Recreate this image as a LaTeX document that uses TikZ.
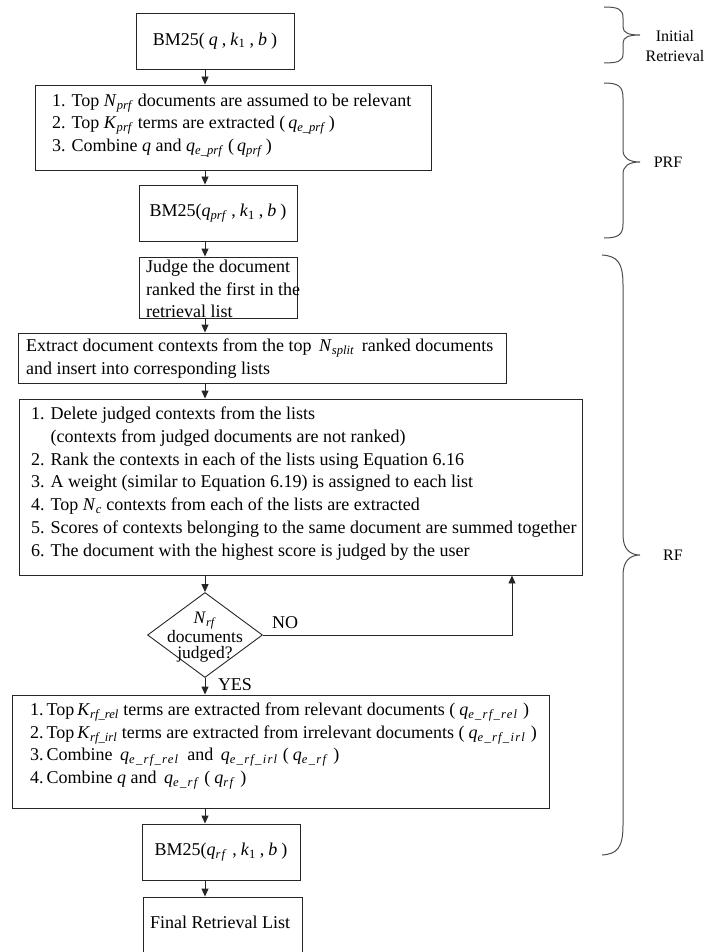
\documentclass[tikz,border=0pt]{standalone}
\usepackage{fontspec}
\setmainfont{Liberation Serif}
\usetikzlibrary{arrows.meta,shapes.geometric}
\newcommand\subit[1]{\textsubscript{\textit{#1}}}
\newcommand\wsub[1]{\textsubscript{\textit{\addfontfeature{LetterSpace=10}#1}}}
\newcommand\gp{\hspace{4pt}}
\begin{document}
\begin{tikzpicture}[x=1pt,y=-1pt,
  box/.style={draw=black!85, line width=0.9pt, rectangle, inner sep=0pt, font=\fontsize{18}{22.8}\selectfont},
  txt/.style={inner sep=0pt, align=left, anchor=west, font=\fontsize{18}{22.8}\selectfont},
  arr/.style={draw=black!85, line width=0.9pt, -{Triangle[length=8pt,width=7pt]}},
  brace/.style={draw=black!70, line width=1pt},
  lab/.style={inner sep=0pt, align=center, font=\fontsize{16}{20}\selectfont},
  small/.style={inner sep=0pt, font=\fontsize{18}{22.8}\selectfont}]
\useasboundingbox (0,0) rectangle (707,952);
\clip (0,0) rectangle (707,952);
\coordinate (ax) at (205,0);
\coordinate (nox) at (512,0);
% boxes
\node[box, minimum width=158pt, minimum height=56pt] (bm1) at (215,41) {BM25(\gp\textit{q}\gp,\gp\textit{k}\textsubscript{1}\gp,\gp\textit{b}\gp)};
\node[box, minimum width=396pt, minimum height=85pt] (prf) at (233,127.5) {};
\node[txt] (prft) at (52,125.5) {1. Top \textit{N}\subit{prf} documents are assumed to be relevant\\
2. Top \textit{K}\subit{prf} terms are extracted (\,\textit{q}\subit{e\_prf}\,)\\
3. Combine \textit{q} and \textit{q}\subit{e\_prf} (\,\textit{q}\subit{prf}\,)};
\node[box, minimum width=158pt, minimum height=56pt] (bm2) at (218,213) {BM25(\textit{q}\subit{prf}\gp,\gp\textit{k}\textsubscript{1}\gp,\gp\textit{b}\gp)};
\node[box, minimum width=158pt, minimum height=61pt] (judge) at (218,287.5) {};
\node[txt] (judget) at (146,289) {Judge the document\\ranked the first in the\\retrieval list};
\node[box, minimum width=488pt, minimum height=50pt] (ext) at (262,358) {};
\node[txt] (extt) at (26,358.5) {Extract document contexts from the top \,\textit{N}\subit{split}\, ranked documents\\and insert into corresponding lists};
\node[box, minimum width=563pt, minimum height=176pt] (rank) at (300.5,487) {};
\node[txt] (rankt) at (31,483.5) {1. Delete judged contexts from the lists\\
\hphantom{1. }(contexts from judged documents are not ranked)\\
2. Rank the contexts in each of the lists using Equation 6.16\\
3. A weight (similar to Equation 6.19) is assigned to each list\\
4. Top \textit{N}\subit{c} contexts from each of the lists are extracted\\
5. Scores of contexts belonging to the same document are summed together\\
6. The document with the highest score is judged by the user};
\node[draw=black!85, line width=0.9pt, diamond, minimum width=115pt, minimum height=85pt, inner sep=0pt] (dec) at (205,635) {};
\node[inner sep=0pt, align=center, font=\fontsize{17.5}{16}\selectfont] (dect) at (205,637) {\textit{N}\subit{rf}\\documents\\judged?};
\node[small] (nolab) at (285,623) {NO};
\node[small] (yeslab) at (235,685) {YES};
\node[box, minimum width=537pt, minimum height=113pt] (rfb) at (280.5,751.5) {};
\node[txt] (rfbt) at (30,746) {1.\,Top\,\textit{K}\subit{rf\_rel} terms are extracted from relevant documents (\gp\textit{q}\wsub{e\_rf\_rel}\gp)\\
2.\,Top\,\textit{K}\subit{rf\_irl} terms are extracted from irrelevant documents (\gp\textit{q}\wsub{e\_rf\_irl}\gp)\\
3.\,Combine \,\textit{q}\wsub{e\_rf\_rel}\, and \,\textit{q}\wsub{e\_rf\_irl}\gp(\gp\textit{q}\wsub{e\_rf}\gp)\\
4.\,Combine \textit{q} and \,\textit{q}\wsub{e\_rf}\gp(\gp\textit{q}\wsub{rf}\gp)};
\node[box, minimum width=158pt, minimum height=56pt] (bm3) at (221,852) {BM25(\textit{q}\wsub{rf}\gp,\gp\textit{k}\textsubscript{1}\gp,\gp\textit{b}\gp)};
\node[box, minimum width=159pt, minimum height=73pt] (final) at (222.5,933.5) {};
\node[small] (finalt) at (220,922) {Final Retrieval List};
% arrows
\draw[arr] (bm1.south -| ax) -- (prf.north -| ax);
\draw[arr] (prf.south -| ax) -- (bm2.north -| ax);
\draw[arr] (bm2.south -| ax) -- (judge.north -| ax);
\draw[arr] (judge.south -| ax) -- (ext.north -| ax);
\draw[arr] (ext.south -| ax) -- (rank.north -| ax);
\draw[arr] (rank.south -| ax) -- (dec.north);
\draw[arr] (dec.east) -- (dec.east -| nox) -- (rank.south -| nox);
\draw[arr] (dec.south) -- (rfb.north -| ax);
\draw[arr] (rfb.south -| ax) -- (bm3.north -| ax);
\draw[arr] (bm3.south -| ax) -- (final.north -| ax);
% braces
\draw[brace] (604,7) .. controls (618,7) and (623,9) .. (623,18) -- (623,27) .. controls (623,33) and (629,35) .. (640,35) .. controls (629,35) and (623,37) .. (623,43) -- (623,54) .. controls (623,61) and (618,63) .. (604,63);
\draw[brace] (604,83) .. controls (618,83) and (623,86) .. (623,98) -- (623,150) .. controls (623,158) and (629,162) .. (640,162) .. controls (629,162) and (623,166) .. (623,174) -- (623,224) .. controls (623,235) and (618,238) .. (604,238);
\draw[brace] (602,255) .. controls (617,256) and (623,262) .. (623,285) -- (623,535) .. controls (623,549) and (630,555) .. (640,555) .. controls (630,555) and (623,561) .. (623,575) -- (623,825) .. controls (623,848) and (617,854) .. (602,855);
\node[lab] (lini) at (675,46) {Initial\\Retrieval};
\node[lab] (lprf) at (668,162) {PRF};
\node[lab] (lrf) at (673,555) {RF};
\end{tikzpicture}
\end{document}
